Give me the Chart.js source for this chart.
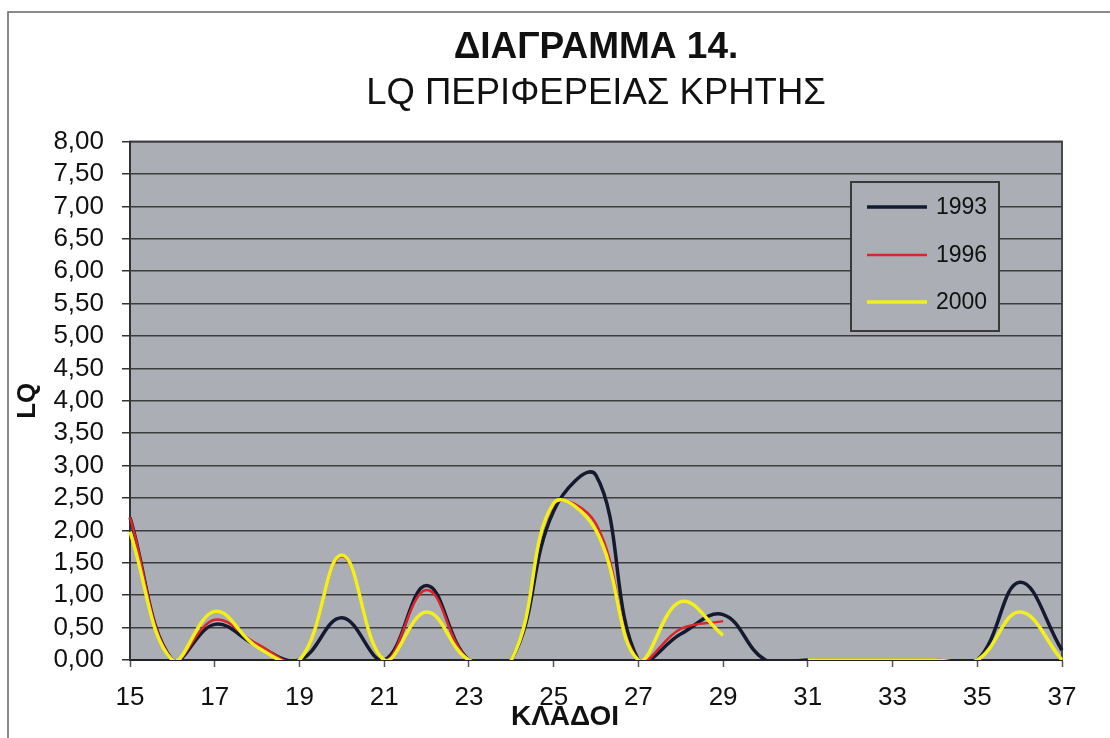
<!DOCTYPE html>
<html>
<head>
<meta charset="utf-8">
<script src="https://cdn.jsdelivr.net/npm/chart.js@4.4.1/dist/chart.umd.min.js"></script>
<style>
  html, body { margin: 0; padding: 0; background: #ffffff; }
  #wrap { width: 1110px; height: 738px; }
</style>
</head>
<body>
<div id="wrap"><canvas id="c" width="1110" height="738"></canvas></div>
<script>
// ---- data ----
const categories = ['15','16','17','18','19','20','21','22','23','24','25','26','27','28','29','30','31','32','33','34','35','36','37'];
const lq1993 = [2.2, 0, 0.55, 0.22, 0, 0.65, 0, 1.15, 0, 0, 2.3, 2.85, 0, 0.4, 0.7, 0, 0, 0, 0, 0, 0, 1.2, 0.15];
const lq1996 = [2.2, 0, 0.62, 0.25, 0, 1.6, 0, 1.08, 0, 0, 2.4, 2.1, 0, 0.48, 0.6, null, null, null, null, null, null, null, null];
const lq2000 = [1.98, 0, 0.75, 0.2, 0, 1.62, 0, 0.74, 0, 0, 2.42, 2.0, 0, 0.9, 0.38, null, 0, 0, 0, 0, 0, 0.74, 0];
const seriesLabels = ['1993', '1996', '2000'];
const titleText = 'ΔΙΑΓΡΑΜΜΑ 14.';
const subtitleText = 'LQ ΠΕΡΙΦΕΡΕΙΑΣ ΚΡΗΤΗΣ';
const yTitle = 'LQ';
const xTitle = 'ΚΛΑΔΟΙ';

const FONT = "'Liberation Sans', Arial, sans-serif";
const PLOT_BG = '#abaeb4';

const framePlugin = {
  id: 'frame',
  beforeDraw(chart) {
    const { ctx, chartArea: a } = chart;
    ctx.save();
    ctx.strokeStyle = '#666666';
    ctx.lineWidth = 1.5;
    ctx.beginPath();
    ctx.moveTo(8, 738);
    ctx.lineTo(8, 12);
    ctx.lineTo(1110, 12);
    ctx.stroke();
    ctx.fillStyle = PLOT_BG;
    ctx.fillRect(a.left, a.top, a.right - a.left, a.bottom - a.top);
    ctx.strokeStyle = '#4a4a4a';
    ctx.lineWidth = 2;
    ctx.strokeRect(a.left, a.top, a.right - a.left, a.bottom - a.top);
    ctx.restore();
  },
  afterDraw(chart) {
    const { ctx } = chart;
    ctx.save();
    ctx.font = "bold 28px " + FONT;
    ctx.fillStyle = '#111111';
    ctx.textAlign = 'center';
    ctx.textBaseline = 'middle';
    ctx.fillText(xTitle, 565, 717);
    const bx = 851, by = 182, bw = 148, bh = 149;
    ctx.fillStyle = PLOT_BG;
    ctx.fillRect(bx, by, bw, bh);
    ctx.strokeStyle = '#3a3a3a';
    ctx.lineWidth = 2;
    ctx.strokeRect(bx, by, bw, bh);
    const rows = [207, 255, 302];
    chart.data.datasets.forEach((ds, i) => {
      const y = rows[i];
      ctx.strokeStyle = ds.borderColor;
      ctx.lineWidth = ds.borderWidth;
      ctx.beginPath();
      ctx.moveTo(867, y);
      ctx.lineTo(927, y);
      ctx.stroke();
      ctx.font = "23px " + FONT;
      ctx.fillStyle = '#111111';
      ctx.textAlign = 'left';
      ctx.textBaseline = 'middle';
      ctx.fillText(ds.label, 936, y + 1);
    });
    ctx.restore();
  }
};

new Chart(document.getElementById('c'), {
  type: 'line',
  data: {
    labels: categories,
    datasets: [
      { label: seriesLabels[0], data: lq1993, borderColor: '#161a30', borderWidth: 3.5, order: 3 },
      { label: seriesLabels[1], data: lq1996, borderColor: '#d8262b', borderWidth: 2.5, order: 2 },
      { label: seriesLabels[2], data: lq2000, borderColor: '#f2ef1c', borderWidth: 3.5, order: 1 }
    ]
  },
  options: {
    responsive: false,
    animation: false,
    devicePixelRatio: 1,
    spanGaps: false,
    elements: {
      point: { radius: 0, hoverRadius: 0 },
      line: { tension: 0.4, capBezierPoints: false, fill: false }
    },
    layout: { padding: { top: 14, right: 48, bottom: 0, left: 0 } },
    plugins: {
      legend: { display: false },
      tooltip: { enabled: false },
      title: {
        display: true, text: titleText, fullSize: false,
        font: { family: FONT, size: 37, weight: 'bold', lineHeight: 1.15 }, color: '#111111',
        padding: { top: 13, bottom: 3 }
      },
      subtitle: {
        display: true, text: subtitleText, fullSize: false,
        font: { family: FONT, size: 36.5, weight: 'normal', lineHeight: 1.15 }, color: '#111111',
        padding: { top: 0, bottom: 27 }
      }
    },
    scales: {
      x: {
        type: 'category',
        offset: false,
        afterFit(scale) { scale.height = 78; },
        grid: {
          drawOnChartArea: false, drawTicks: true, tickLength: 7, tickWidth: 1.5,
          tickColor: (ctx) => (ctx.index % 2 === 0 ? '#555555' : 'rgba(0,0,0,0)')
        },
        border: { display: true, color: '#222222', width: 2 },
        ticks: {
          autoSkip: false, maxRotation: 0, padding: 15, color: '#111111',
          font: { family: FONT, size: 26 },
          callback: function (v, i) { return i % 2 === 0 ? this.getLabelForValue(v) : ''; }
        }
      },
      y: {
        min: 0, max: 8,
        afterFit(scale) { scale.width = 130; },
        grid: { color: '#3d3d3d', lineWidth: 1.5, tickLength: 8, tickColor: '#333333' },
        border: { display: true, color: '#333333', width: 2 },
        ticks: {
          stepSize: 0.5, autoSkip: false, padding: 18, color: '#111111',
          font: { family: FONT, size: 26, lineHeight: 1.0 },
          callback: (v) => v.toFixed(2).replace('.', ',')
        },
        title: {
          display: true, text: yTitle, color: '#111111',
          font: { family: FONT, size: 26, weight: 'bold' },
          padding: { top: 12, bottom: 0 }
        }
      }
    }
  },
  plugins: [framePlugin]
});
</script>
</body>
</html>
